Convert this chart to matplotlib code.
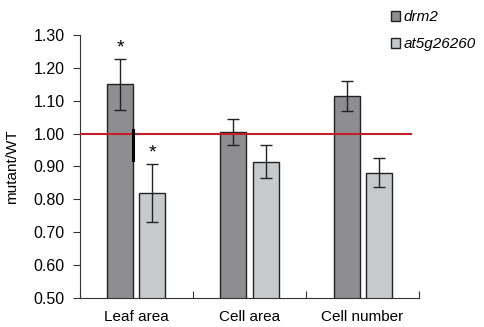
import matplotlib.pyplot as plt
import numpy as np

plt.rcParams['font.family'] = ['Liberation Sans', 'DejaVu Sans']

categories = ['Leaf area', 'Cell area', 'Cell number']
drm2 = [1.15, 1.005, 1.115]
drm2_err = [0.077, 0.04, 0.045]
at5 = [0.82, 0.914, 0.881]
at5_err = [0.088, 0.05, 0.045]
sig_drm2 = [True, False, False]
sig_at5 = [True, False, False]

fig = plt.figure(figsize=(4.84, 3.27), dpi=100)
ax = fig.add_axes([0.165, 0.089, 0.701, 0.804])

x = np.arange(len(categories))
w = 0.23
off = 0.142
ax.bar(x - off, drm2, w, bottom=0, color='#8e8e90', edgecolor='#222222', linewidth=1.0,
       yerr=drm2_err, error_kw=dict(ecolor='#222222', elinewidth=1.0, capsize=4, capthick=1.0),
       label='drm2', zorder=2)
ax.bar(x + off, at5, w, color='#c8c9cb', edgecolor='#222222', linewidth=1.0,
       yerr=at5_err, error_kw=dict(ecolor='#222222', elinewidth=1.0, capsize=4, capthick=1.0),
       label='at5g26260', zorder=2)

# significance stars
for i in range(len(categories)):
    if sig_drm2[i]:
        ax.text(x[i] - off, drm2[i] + drm2_err[i] + 0.008, '*', ha='center', va='bottom', fontsize=14)
    if sig_at5[i]:
        ax.text(x[i] + off, at5[i] + at5_err[i] + 0.008, '*', ha='center', va='bottom', fontsize=14)

# reference line at WT level
ax.plot([-0.5, 2.43], [1.0, 1.0], color='#c0202a', linewidth=1.5, zorder=3)
# stray black mark from original figure
ax.plot([x[0] - off + w / 2] * 2, [0.92, 1.01], color='black', linewidth=2.2, zorder=4)

ax.set_ylim(0.5, 1.3)
ax.set_xlim(-0.5, 2.5)
ax.set_yticks(np.arange(0.5, 1.31, 0.1))
ax.set_yticklabels(['%.2f' % v for v in np.arange(0.5, 1.31, 0.1)], fontsize=11.5)
ax.set_xticks([-0.5, 0.5, 1.5, 2.5])
ax.set_xticklabels([])
ax.set_xticks(x, minor=True)
ax.set_xticklabels(categories, minor=True, fontsize=11)
ax.tick_params(axis='x', which='minor', length=0, pad=9)
ax.tick_params(axis='x', which='major', length=5, direction='in', color='#333333')
ax.tick_params(axis='y', length=5, color='#333333', pad=6)
ax.spines['top'].set_visible(False)
ax.spines['right'].set_visible(False)
ax.spines['left'].set_color('#333333')
ax.spines['bottom'].set_color('#333333')
ax.set_ylabel('mutant/WT', fontsize=11, labelpad=10)

leg = fig.legend(loc='upper left', bbox_to_anchor=(0.78, 1.01), frameon=False,
                 prop={'style': 'italic', 'size': 11}, handlelength=0.6, handleheight=0.6,
                 handletextpad=0.2, labelspacing=0.85)

fig.savefig('out.png', dpi=100)
